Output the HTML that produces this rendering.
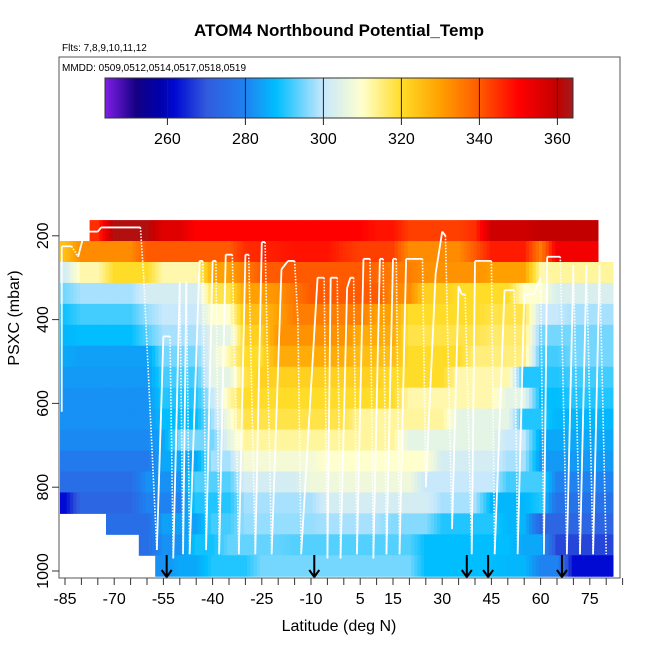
<!DOCTYPE html>
<html><head><meta charset="utf-8"><style>
body{margin:0;background:#fff;}
svg text{font-family:"Liberation Sans",sans-serif;}
</style></head><body>
<svg id="c" width="650" height="650" viewBox="0 0 650 650" xmlns="http://www.w3.org/2000/svg">
<text x="339" y="36" text-anchor="middle" font-size="17" font-weight="bold">ATOM4 Northbound Potential_Temp</text>
<text x="62" y="51" font-size="10">Flts: 7,8,9,10,11,12</text>
<g id="heat"></g>
<g id="track"></g>
<g id="arrows"></g>
<rect x="59" y="57" width="561" height="521" fill="none" stroke="#555" stroke-width="1"/>
<text x="62" y="71" font-size="10">MMDD: 0509,0512,0514,0517,0518,0519</text>
<g id="cbar"></g>
<g id="xaxis"></g>
<g id="yaxis"></g>
<text x="339" y="631" text-anchor="middle" font-size="16">Latitude (deg N)</text>
<text transform="translate(19,318) rotate(-90)" text-anchor="middle" font-size="16">PSXC (mbar)</text>
</svg>
<script>
const lats=[-85,-80,-75,-70,-65,-60,-55,-50,-45,-40,-35,-30,-25,-20,-15,-10,-5,0,5,10,15,20,25,30,35,40,45,50,55,60,65,70,75,80];
const pressures=[187.5,237.5,287.5,337.5,387.5,437.5,487.5,537.5,587.5,637.5,687.5,737.5,787.5,837.5,887.5,937.5,987.5];
const N=null;
const theta=[
[N,N,345,362,362,362,355,355,350,350,350,350,350,350,350,350,350,350,350,348,348,343,343,343,343,345,358,358,358,360,360,360,360,N],
[325,333,333,333,333,340,340,340,340,340,340,345,346,347,348,348,348,345,343,343,343,333,333,333,333,340,347,347,347,335,352,352,352,N],
[302,312,312,320,320,320,312,312,312,330,330,335,340,340,340,340,340,340,340,338,335,335,332,332,332,332,330,330,330,312,313,313,313,313],
[295,298,298,298,298,302,302,302,302,318,318,330,330,332,336,340,340,340,340,340,333,333,322,322,320,320,320,320,310,310,303,303,303,303],
[289,292,292,292,292,297,300,300,300,310,310,325,325,330,335,335,335,335,335,330,330,320,320,320,320,320,318,318,318,300,300,298,298,298],
[287,288,288,288,288,293,298,298,298,305,305,322,322,332,332,332,332,332,328,328,328,318,318,318,318,318,316,316,316,295,295,295,295,295],
[285,284,284,284,284,284,295,295,295,305,312,320,320,328,328,328,328,328,325,325,325,320,320,320,320,315,315,315,315,292,292,295,295,295],
[283,283,283,283,283,283,292,292,292,305,305,318,322,322,322,322,322,322,322,322,320,320,320,320,312,312,312,312,290,290,290,292,292,292],
[282,282,282,282,282,282,290,290,290,300,312,320,320,320,320,320,320,320,320,320,320,312,312,312,312,312,312,305,305,288,288,290,290,290],
[282,282,282,282,282,282,288,288,288,298,308,318,318,318,318,318,318,318,313,313,313,313,313,313,305,305,305,305,290,290,287,287,287,287],
[281,281,281,281,281,281,285,295,295,295,305,313,313,313,313,313,313,313,313,313,313,305,305,305,305,305,305,300,300,285,285,285,285,285],
[278,278,278,278,278,278,285,285,285,298,298,308,308,308,308,308,310,310,310,310,310,310,310,302,302,302,302,298,298,283,283,283,283,283],
[275,275,275,275,275,282,282,282,293,293,293,302,302,302,302,307,307,307,307,307,307,307,300,300,300,300,300,292,292,292,280,280,280,280],
[262,273,273,273,273,280,280,280,290,290,290,298,298,298,298,298,302,302,302,302,302,302,302,298,298,298,287,287,287,290,276,276,276,276],
[N,N,N,275,275,275,284,284,284,292,292,297,297,297,297,297,298,298,298,298,296,296,296,290,290,290,290,287,287,273,273,273,273,273],
[N,N,N,N,N,275,282,282,289,289,294,294,294,294,293,293,293,293,293,293,293,293,288,288,288,288,288,288,285,285,268,268,268,268],
[N,N,N,N,N,N,282,285,285,290,290,290,295,295,295,295,295,295,295,295,295,295,288,288,288,288,288,287,287,280,280,262,262,262]
];
const trackLat=[-86,-86,-83,-81,-79,-75,-74,-62,-61,-57,-55,-53,-52,-50,-49,-48,-47,-44,-43,-42,-40,-39,-38,-36,-34,-32,-30,-29,-27,-25,-24,-22,-19,-17,-15,-14,-13,-8,-6,-5,-4,-2,-1,1,2,3,4,6,8,9,11,12,13,15,16,17,19,24,25,28,30,31,33,35,36,37,39,40,42,45,46,49,52,53,55,58,60,61,62,66,68,70,72,74,76,78,80];
const trackP=[620,225,225,250,190,190,180,180,300,950,440,440,970,310,960,310,960,260,260,950,260,260,960,245,245,960,245,245,960,215,215,960,280,260,260,400,960,300,300,970,300,300,970,325,300,300,960,255,255,970,255,255,960,255,255,960,255,255,800,290,190,200,900,320,340,340,960,260,260,260,960,330,330,960,340,340,300,960,250,250,960,270,960,270,960,270,960];
const arrowLats=[-54,-9,37.5,44,66.5];
const cbTicks=[260,280,300,320,340,360];
const xLabels=[-85,-70,-55,-40,-25,-10,5,15,30,45,60,75];
const yTicks=[200,400,600,800,1000];

const X=l=>65+(l+85)*3.28;
const Y=p=>152+p*0.419;
const stops=[[244,[128,32,230]],[252,[20,0,130]],[258,[0,0,170]],[262,[0,10,210]],[270,[50,90,220]],[280,[30,130,240]],[288,[0,190,255]],[300,[200,232,252]],[310,[255,255,205]],[320,[255,220,40]],[330,[255,160,0]],[340,[255,90,0]],[350,[255,0,0]],[360,[195,0,0]],[364,[160,30,30]]];
function col(v){
  if(v<=stops[0][0])return `rgb(${stops[0][1]})`;
  for(let i=1;i<stops.length;i++){if(v<=stops[i][0]){const a=stops[i-1],b=stops[i],t=(v-a[0])/(b[0]-a[0]);return 'rgb('+a[1].map((c,k)=>Math.round(c+(b[1][k]-c)*t)).join(',')+')';}}
  return `rgb(${stops[stops.length-1][1]})`;
}
const NS='http://www.w3.org/2000/svg';
function mk(t,a,parent){const e=document.createElementNS(NS,t);for(const k in a)e.setAttribute(k,a[k]);parent.appendChild(e);return e;}
const heat=document.getElementById('heat');
const SUB=5;
theta.forEach((row,ri)=>{row.forEach((v,ci)=>{if(v===null)return;
  const y0=Y(pressures[ri]-25),y1=Y(pressures[ri]+25);
  for(let s=0;s<SUB;s++){
    const la=lats[ci]-2.5+5*s/SUB, lb=la+5/SUB, mid=(la+lb)/2;
    let vv=v;
    const nb=mid<lats[ci]?row[ci-1]:row[ci+1];
    if(nb!=null&&nb!==undefined){const w=Math.abs(mid-lats[ci])/5;vv=v+(nb-v)*w;}
    let x0=Math.max(60,X(la)),x1=Math.min(613,X(lb));
    if(x1<=x0)continue;
    const r=mk('rect',{x:x0,y:y0,width:x1-x0+0.5,height:y1-y0+0.5,fill:col(vv)},heat);
    
    
  }
});});
const tr=document.getElementById('track');
for(let i=1;i<trackLat.length;i++){
  const desc=trackP[i]>trackP[i-1]+20;
  const ln=mk('line',{x1:X(trackLat[i-1]),y1:Y(trackP[i-1]),x2:X(trackLat[i]),y2:Y(trackP[i]),stroke:'#fff','stroke-width':desc?1.6:1.8,'stroke-dasharray':desc?'1.5 1.5':'none'},tr);
  
  
}
const ar=document.getElementById('arrows');
arrowLats.forEach(l=>{const x=X(l);
  const g=mk('path',{d:`M${x},555 L${x},577 M${x-5},570 L${x},577 L${x+5},570`,stroke:'#000','stroke-width':2,fill:'none'},ar);
  
  
});
const cb=document.getElementById('cbar');
const cx=v=>105+(v-244)*(573-105)/(364-244);
for(let v=244;v<364;v+=0.5){const r=mk('rect',{x:cx(v),y:78,width:(573-105)/240+0.4,height:40,fill:col(v+0.25)},cb);
  
  }
mk('rect',{x:105,y:78,width:468,height:40,fill:'none',stroke:'#333'},cb);
cbTicks.forEach(v=>{mk('line',{x1:cx(v),x2:cx(v),y1:78,y2:125,stroke:'#222','stroke-width':1},cb);
  const t=mk('text',{x:cx(v),y:144,'text-anchor':'middle','font-size':16},cb);t.textContent=v;
  
  });
const xa=document.getElementById('xaxis');
for(let l=-85;l<=85;l+=5)mk('line',{x1:X(l),x2:X(l),y1:578,y2:585,stroke:'#333'},xa);
xLabels.forEach(l=>{const t=mk('text',{x:X(l),y:604,'text-anchor':'middle','font-size':16},xa);t.textContent=l;
  
  });
const ya=document.getElementById('yaxis');
yTicks.forEach(p=>{mk('line',{x1:52,x2:59,y1:Y(p),y2:Y(p),stroke:'#333'},ya);
  const t=mk('text',{transform:`translate(48,${Y(p)}) rotate(-90)`,'text-anchor':'middle','font-size':16},ya);t.textContent=p;
  
  });
</script>
</body></html>
